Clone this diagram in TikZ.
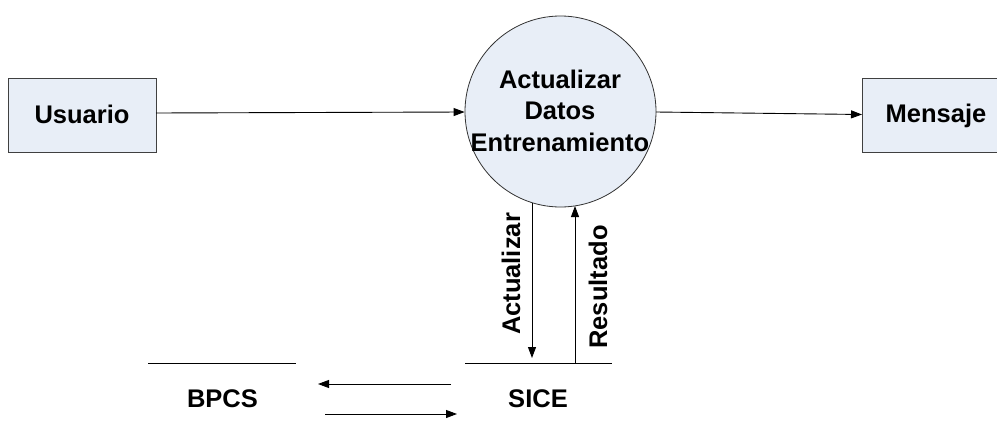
\documentclass[tikz,border=0pt]{standalone}
\usepackage{fontspec}
\setmainfont{Liberation Sans}
\usetikzlibrary{arrows.meta}
\definecolor{fillblue}{RGB}{232,238,247}
\begin{document}
\begin{tikzpicture}[x=1pt,y=-1pt,
  lbl/.style={font=\bfseries\fontsize{25.5}{31.5}\selectfont, inner sep=0pt, anchor=base},
  entity/.style={draw=black!75, line width=1pt, fill=fillblue},
  flow/.style={line width=0.9pt, -{Triangle[length=11pt,width=8pt]}},
  store/.style={line width=0.9pt}]
\useasboundingbox (0,0) rectangle (997,431);
\clip (0,0) rectangle (997,431);
% entities
\draw[entity] (8,78) rectangle (156,152);
\node[lbl] (usuario) at (82,123) {Usuario};
\coordinate (uR) at (156,113);
\draw[entity] (862,78) rectangle (1010,152);
\node[lbl] (mensaje) at (936,122.5) {Mensaje};
\coordinate (mL) at (862,114.5);
% process
\node[circle, draw=black!80, line width=0.8pt, fill=fillblue, minimum size=191pt, inner sep=0pt] (proc) at (560.5,111.5) {};
\node[lbl] (pt1) at (560,88) {Actualizar};
\node[lbl] (pt2) at (560,119.5) {Datos};
\node[lbl] (pt3) at (560,151) {Entrenamiento};
% flows
\draw[flow] (uR) -- (proc.west |- 0,112);
\coordinate (pR) at (656,112);
\draw[flow] (pR) -- (mL);
% stores
\coordinate (b1) at (148,363); \coordinate (b2) at (296,363);
\draw[store] (b1) -- (b2);
\node[lbl] (bpcs) at (222.5,407) {BPCS};
\coordinate (s1) at (465,363); \coordinate (s2) at (612,363);
\draw[store] (s1) -- (s2);
\node[lbl] (sice) at (538,407) {SICE};
% vertical flows
\coordinate (actTop) at (532,202.6);
\coordinate (actBot) at (532,358);
\draw[flow] (actTop) -- (actBot);
\coordinate (resBot) at (575,363);
\coordinate (resTop) at (575,206);
\draw[flow] (resBot) -- (resTop);
\node[lbl, rotate=90] (lact) at (520,274) {Actualizar};
\node[lbl, rotate=90] (lres) at (607,287) {Resultado};
% store arrows
\coordinate (a1s) at (451,384); \coordinate (a1e) at (318,384);
\draw[flow] (a1s) -- (a1e);
\coordinate (a2s) at (325,414); \coordinate (a2e) at (457,414);
\draw[flow] (a2s) -- (a2e);
\end{tikzpicture}
\end{document}
